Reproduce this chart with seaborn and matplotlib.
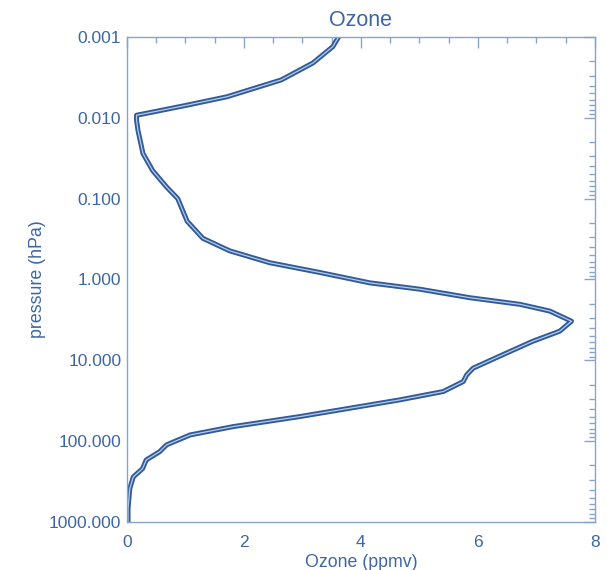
import numpy as np
import pandas as pd
import matplotlib
matplotlib.use("Agg")
import matplotlib.pyplot as plt
import matplotlib.ticker as mticker
import seaborn as sns

# ozone profile (pressure in hPa, ozone in ppmv)
pressure = [0.001, 0.00132, 0.0021, 0.0034, 0.0055, 0.0070, 0.0085, 0.0093,
            0.0107, 0.0143, 0.0276, 0.0449, 0.072, 0.100, 0.19, 0.31,
            0.443, 0.62, 0.82, 1.10, 1.32, 1.68, 2.03, 2.46, 3.28, 4.36,
            5.81, 8.5, 12.5, 15.1, 18.3, 24.3, 30.8, 49.6, 66.0, 83.8,
            111.0, 135.0, 171.0, 218.0, 277.0, 385.0, 684.0, 1000.0]
ozone = [3.62, 3.52, 3.18, 2.64, 1.71, 1.02, 0.44, 0.165,
         0.165, 0.19, 0.275, 0.44, 0.68, 0.87, 1.03, 1.30,
         1.76, 2.44, 3.30, 4.15, 5.01, 5.86, 6.72, 7.23, 7.60, 7.40,
         6.94, 6.43, 5.92, 5.81, 5.75, 5.41, 4.67, 2.96, 1.82, 1.08,
         0.68, 0.56, 0.33, 0.27, 0.11, 0.05, 0.02, 0.02]

x_ticks = [0, 2, 4, 6, 8]
y_ticks = [0.001, 0.01, 0.1, 1, 10, 100, 1000]

df = pd.DataFrame({"pressure": pressure, "ozone": ozone})

sns.set_style("white")
plt.rcParams["font.family"] = ["Liberation Sans", "DejaVu Sans"]

txt = "#3d66a3"
axc = "#88a4cc"
dark = "#2f5b9b"
light = "#b9cbe4"

fig = plt.figure(figsize=(6.07, 5.70), dpi=100)
ax = fig.add_axes([0.209, 0.0842, 0.771, 0.851])

# thick dark line with a thin light core, like the double-stroked original
sns.lineplot(data=df, x="ozone", y="pressure", sort=False, estimator=None,
             color=dark, linewidth=3.6, ax=ax)
sns.lineplot(data=df, x="ozone", y="pressure", sort=False, estimator=None,
             color=light, linewidth=0.9, ax=ax)

ax.set_yscale("log")
ax.set_ylim(1000, 0.001)
ax.set_xlim(0, 8)
ax.set_xticks(x_ticks)
ax.set_xticklabels([str(v) for v in x_ticks])
ax.set_yticks(y_ticks)
ax.yaxis.set_major_formatter(mticker.FuncFormatter(lambda v, p: f"{v:.3f}"))
ax.xaxis.set_minor_locator(mticker.MultipleLocator(0.5))
ax.yaxis.set_minor_locator(mticker.LogLocator(base=10, subs=np.arange(2, 10)))
ax.yaxis.set_minor_formatter(mticker.NullFormatter())

ax.tick_params(which="both", direction="in", top=True, right=True,
               color=axc, labelcolor=txt, labelsize=12.5)
ax.tick_params(which="major", length=8, width=1)
ax.tick_params(which="minor", length=4.5, width=1)
ax.tick_params(axis="x", pad=9)
ax.tick_params(axis="y", pad=4)
for s in ax.spines.values():
    s.set_color(axc)
    s.set_linewidth(1)

ax.set_title("Ozone", color=txt, fontsize=15.5, pad=8)
ax.set_xlabel("Ozone (ppmv)", color=txt, fontsize=12.8, labelpad=3)
ax.set_ylabel("pressure (hPa)", color=txt, fontsize=12.8, labelpad=2)

fig.savefig("out.png", dpi=100)
